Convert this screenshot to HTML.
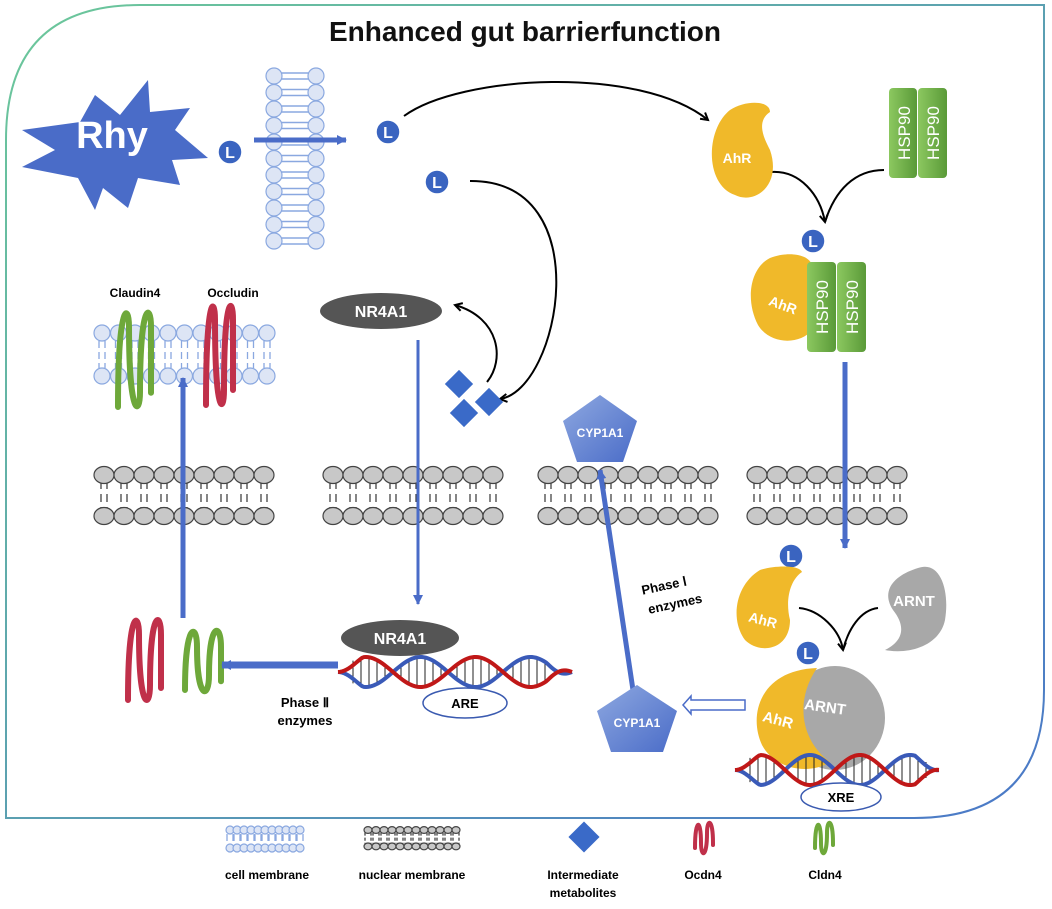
<!DOCTYPE html>
<html><head><meta charset="utf-8"><style>
body{margin:0;background:#fff;width:1052px;height:909px;overflow:hidden}
svg{display:block;font-family:"Liberation Sans",sans-serif}
.b{font-weight:bold}
</style></head><body>
<svg id="s" width="1052" height="909" viewBox="0 0 1052 909">
<defs>
<linearGradient id="bd" x1="0" y1="0" x2="1" y2="1"><stop offset="0" stop-color="#6cc89a"/><stop offset="1" stop-color="#4a78c8"/></linearGradient>
<linearGradient id="gr" x1="0" y1="0" x2="1" y2="0"><stop offset="0" stop-color="#8cc860"/><stop offset="1" stop-color="#5a9a38"/></linearGradient>
<linearGradient id="pg" x1="0" y1="0" x2="1" y2="1"><stop offset="0" stop-color="#8ea8e0"/><stop offset="1" stop-color="#4a6cc8"/></linearGradient>
<marker id="ah" markerWidth="10" markerHeight="10" refX="8" refY="5" orient="auto" markerUnits="userSpaceOnUse"><path d="M1,1 L8,5 L1,9" fill="none" stroke="#000" stroke-width="2"/></marker>
<marker id="bh" markerWidth="12" markerHeight="12" refX="9" refY="6" orient="auto" markerUnits="userSpaceOnUse"><path d="M0,1 L10,6 L0,11z" fill="#4a6cc8"/></marker>
</defs>
<path d="M140,5 H1044 V690 Q1044,818 914,818 H6 V140 Q6,5 140,5Z" fill="none" stroke="url(#bd)" stroke-width="2"/>
<text x="525" y="41" text-anchor="middle" class="b" font-size="28" fill="#111">Enhanced gut barrierfunction</text>
<g id="dyn"></g>
<polygon points="22,130 80,122 95,95 120,115 148,80 150,112 190,108 175,130 208,158 172,160 180,185 138,178 128,208 103,188 95,210 78,178 22,167 55,150" fill="#4a6cc8"/>
<text x="112" y="148" text-anchor="middle" class="b" font-size="38" fill="#fff">Rhy</text>
<line x1="254" y1="140" x2="346" y2="140" stroke="#4a6cc8" stroke-width="5" marker-end="url(#bh)"/>
<path d="M404,116 C460,75 640,65 708,120" fill="none" stroke="#000" stroke-width="2" marker-end="url(#ah)"/>
<path d="M470,181 C600,180 560,390 500,399" fill="none" stroke="#000" stroke-width="2" marker-end="url(#ah)"/>
<path d="M487,382 C505,360 500,318 455,305" fill="none" stroke="#000" stroke-width="2" marker-end="url(#ah)"/>
<path d="M771,172 C800,170 820,195 825,222" fill="none" stroke="#000" stroke-width="2" marker-end="url(#ah)"/>
<path d="M884,170 C855,170 835,190 825,222" fill="none" stroke="#000" stroke-width="2"/>
<path d="M799,608 C820,610 840,630 843,650" fill="none" stroke="#000" stroke-width="2" marker-end="url(#ah)"/>
<path d="M878,608 C860,610 848,630 843,650" fill="none" stroke="#000" stroke-width="2"/>
<path d="M730,110 C745,100 770,100 770,112 C755,122 765,140 770,150 C782,185 755,205 735,195 C705,185 705,130 730,110Z" fill="#f0b92a"/>
<text x="737" y="163" text-anchor="middle" class="b" font-size="14" fill="#fff">AhR</text>
<g fill="url(#gr)"><rect x="889" y="88" width="28" height="90" rx="4"/><rect x="918" y="88" width="29" height="90" rx="4"/></g>
<text transform="translate(910,133) rotate(-90)" text-anchor="middle" font-size="17" fill="#fff">HSP90</text>
<text transform="translate(939,133) rotate(-90)" text-anchor="middle" font-size="17" fill="#fff">HSP90</text>
<path d="M770,258 C790,250 815,255 812,270 V330 C800,345 770,345 758,325 C745,300 750,268 770,258Z" fill="#f0b92a"/>
<text x="783" y="310" text-anchor="middle" class="b" font-size="14" fill="#fff" transform="rotate(20,783,305)">AhR</text>
<g fill="url(#gr)"><rect x="807" y="262" width="29" height="90" rx="4"/><rect x="837" y="262" width="29" height="90" rx="4"/></g>
<text transform="translate(828,307) rotate(-90)" text-anchor="middle" font-size="17" fill="#fff">HSP90</text>
<text transform="translate(858,307) rotate(-90)" text-anchor="middle" font-size="17" fill="#fff">HSP90</text>
<line x1="845" y1="362" x2="845" y2="548" stroke="#4a6cc8" stroke-width="5" marker-end="url(#bh)"/>
<path d="M760,570 C775,565 800,565 802,572 C790,580 785,600 790,620 C790,650 760,655 745,640 C730,620 735,585 760,570Z" fill="#f0b92a"/>
<text x="763" y="625" text-anchor="middle" class="b" font-size="14" fill="#fff" transform="rotate(15,763,620)">AhR</text>
<path d="M918,568 C940,560 950,590 945,620 C940,645 910,655 885,650 C905,640 905,625 893,610 C880,590 895,575 918,568Z" fill="#a8a8a8"/>
<text x="914" y="606" text-anchor="middle" class="b" font-size="15" fill="#fff">ARNT</text>
<ellipse cx="835" cy="718" rx="50" ry="52" fill="#a8a8a8"/>
<path d="M817,668 C795,700 800,740 830,762 C810,775 775,770 762,745 C748,715 760,670 817,668Z" fill="#f0b92a"/>
<text x="778" y="725" text-anchor="middle" class="b" font-size="15" fill="#fff" transform="rotate(15,778,720)">AhR</text>
<text x="825" y="712" text-anchor="middle" class="b" font-size="15" fill="#fff" transform="rotate(8,825,708)">ARNT</text>
<g id="dna2"></g>
<ellipse cx="841" cy="797" rx="40" ry="14" fill="#fff" stroke="#3a5ab0" stroke-width="1.5"/>
<text x="841" y="802" text-anchor="middle" class="b" font-size="13">XRE</text>
<path d="M745,700 H691 V696 L683,705 L691,714 V710 H745Z" fill="#fff" stroke="#4a6cc8" stroke-width="1.5"/>
<line x1="633" y1="690" x2="600" y2="470" stroke="#4a6cc8" stroke-width="5" marker-end="url(#bh)"/>
<polygon points="600,395 637,421 623,462 577,462 563,421" fill="url(#pg)"/>
<text x="600" y="437" text-anchor="middle" font-size="12" class="b" fill="#fff">CYP1A1</text>
<polygon points="637,685 677,711 663,752 611,752 597,711" fill="url(#pg)"/>
<text x="637" y="727" text-anchor="middle" font-size="12" class="b" fill="#fff">CYP1A1</text>
<g transform="rotate(-12,665,590)"><text x="665" y="590" text-anchor="middle" class="b" font-size="13">Phase Ⅰ</text><text x="672" y="610" text-anchor="middle" class="b" font-size="13">enzymes</text></g>
<g fill="#3a6ac8"><rect x="-10" y="-10" width="20" height="20" transform="translate(459,384) rotate(45)"/><rect x="-10" y="-10" width="20" height="20" transform="translate(489,402) rotate(45)"/><rect x="-10" y="-10" width="20" height="20" transform="translate(464,413) rotate(45)"/></g>
<ellipse cx="381" cy="311" rx="61" ry="18" fill="#555"/>
<text x="381" y="317" text-anchor="middle" class="b" font-size="16" fill="#fff">NR4A1</text>
<line x1="418" y1="340" x2="418" y2="604" stroke="#4a6cc8" stroke-width="3" marker-end="url(#bh)"/>
<g id="dna1"></g>
<ellipse cx="400" cy="638" rx="59" ry="18" fill="#555"/>
<text x="400" y="644" text-anchor="middle" class="b" font-size="16" fill="#fff">NR4A1</text>
<ellipse cx="465" cy="703" rx="42" ry="15" fill="#fff" stroke="#3a5ab0" stroke-width="1.5"/>
<text x="465" y="708" text-anchor="middle" class="b" font-size="13">ARE</text>
<line x1="338" y1="665" x2="222" y2="665" stroke="#4a6cc8" stroke-width="7" marker-end="url(#bh)"/>
<text x="305" y="707" text-anchor="middle" class="b" font-size="13">Phase Ⅱ</text>
<text x="305" y="725" text-anchor="middle" class="b" font-size="13">enzymes</text>
<line x1="183" y1="618" x2="183" y2="378" stroke="#4a6cc8" stroke-width="5" marker-end="url(#bh)"/>
<text x="135" y="297" text-anchor="middle" class="b" font-size="12">Claudin4</text>
<text x="233" y="297" text-anchor="middle" class="b" font-size="12">Occludin</text>
<text x="267" y="879" text-anchor="middle" class="b" font-size="12">cell membrane</text>
<text x="412" y="879" text-anchor="middle" class="b" font-size="12">nuclear membrane</text>
<rect x="-11" y="-11" width="22" height="22" fill="#3a6ac8" transform="translate(584,837) rotate(45)"/>
<text x="583" y="879" text-anchor="middle" class="b" font-size="12">Intermediate</text>
<text x="583" y="897" text-anchor="middle" class="b" font-size="12">metabolites</text>
<text x="703" y="879" text-anchor="middle" class="b" font-size="12">Ocdn4</text>
<text x="825" y="879" text-anchor="middle" class="b" font-size="12">Cldn4</text>
</svg>
<script>
var NS="http://www.w3.org/2000/svg",g=document.getElementById("dyn");
function el(t,a,p){var e=document.createElementNS(NS,t);for(var k in a)e.setAttribute(k,a[k]);(p||g).appendChild(e);return e;}
for(var y=76;y<=244;y+=16.5){
 el("line",{x1:280,y1:y-3,x2:310,y2:y-3,stroke:"#8aa8e0","stroke-width":1.5});
 el("line",{x1:280,y1:y+3,x2:310,y2:y+3,stroke:"#8aa8e0","stroke-width":1.5});
 el("circle",{cx:274,cy:y,r:8,fill:"#dde5f5",stroke:"#8aa8e0","stroke-width":1.2});
 el("circle",{cx:316,cy:y,r:8,fill:"#dde5f5",stroke:"#8aa8e0","stroke-width":1.2});
}
function hcm(x0,x1,y0,y1,r,st){for(var x=x0;x<=x1;x+=st){
 el("line",{x1:x-3,y1:y0+r,x2:x-3,y2:y1-r,stroke:"#8aa8e0","stroke-width":1.3,"stroke-dasharray":"7 4"});
 el("line",{x1:x+3,y1:y0+r,x2:x+3,y2:y1-r,stroke:"#8aa8e0","stroke-width":1.3,"stroke-dasharray":"7 4"});
 el("circle",{cx:x,cy:y0,r:r,fill:"#dde5f5",stroke:"#8aa8e0","stroke-width":1.2});
 el("circle",{cx:x,cy:y1,r:r,fill:"#dde5f5",stroke:"#8aa8e0","stroke-width":1.2});}}
hcm(102,270,333,376,8,16.5);
hcm(230,305,830,848,4,7);
function nm(x0,n,sc,cy){for(var i=0;i<n;i++){var x=x0+i*20*sc;
 el("line",{x1:x-3,y1:cy-14*sc,x2:x-3,y2:cy+14*sc,stroke:"#444","stroke-width":1.3,"stroke-dasharray":(8*sc)+" "+(5*sc)});
 el("line",{x1:x+3,y1:cy-14*sc,x2:x+3,y2:cy+14*sc,stroke:"#444","stroke-width":1.3,"stroke-dasharray":(8*sc)+" "+(5*sc)});
 el("ellipse",{cx:x,cy:cy-20*sc,rx:10*sc,ry:8.5*sc,fill:"#c8c8c8",stroke:"#444","stroke-width":1.2});
 el("ellipse",{cx:x,cy:cy+21*sc,rx:10*sc,ry:8.5*sc,fill:"#c8c8c8",stroke:"#444","stroke-width":1.2});}}
nm(104,9,1,495);nm(333,9,1,495);nm(548,9,1,495);nm(757,8,1,495);
nm(368,12,0.4,838);
function dna(p,x0,x1,cy,amp,per){var pr="",pb="";for(var x=x0;x<=x1;x+=2){var t=(x-x0)/per*2*Math.PI;var env=Math.min(1,(x-x0)/25,(x1-x)/25);
 pr+=(x==x0?"M":"L")+x+","+(cy-amp*Math.sin(t)*env);pb+=(x==x0?"M":"L")+x+","+(cy+amp*Math.sin(t)*env);}
 for(var x=x0+15;x<x1-10;x+=8){var t=(x-x0)/per*2*Math.PI;var a=amp*Math.abs(Math.sin(t));if(a>5)el("line",{x1:x,y1:cy-a,x2:x,y2:cy+a,stroke:"#222","stroke-width":1},p);}
 el("path",{d:pb,fill:"none",stroke:"#3a5ab8","stroke-width":4},p);el("path",{d:pr,fill:"none",stroke:"#c01818","stroke-width":4},p);}
dna(document.getElementById("dna1"),338,572,672,15,110);dna(document.getElementById("dna2"),735,940,770,15,100);
[[230,152],[388,132],[437,182],[813,241],[791,556],[808,653]].forEach(function(p){
 el("circle",{cx:p[0],cy:p[1],r:12,fill:"#3a64c0",stroke:"#fff","stroke-width":1.5});
 var t=el("text",{x:p[0],y:p[1]+6,"text-anchor":"middle","font-size":16,"font-weight":"bold",fill:"#fff"});t.textContent="L";});
function loop(x0,y0,segs,w,h,col,sw){var d="M"+x0+","+(y0+h);var x=x0;for(var i=0;i<segs;i++){d+=" C"+x+","+(y0-10)+" "+(x+w)+","+(y0-10)+" "+(x+w)+","+(y0+15);x+=w;if(i<segs-1){d+=" C"+x+","+(y0+h+10)+" "+(x+w)+","+(y0+h+10)+" "+(x+w)+","+(y0+h-15);x+=w;}}
 d+=" L"+x+","+(y0+h*0.85);
 el("path",{d:d,fill:"none",stroke:col,"stroke-width":sw,"stroke-linecap":"round"});}
loop(118,312,2,11,95,"#6ea83a",6);
loop(206,305,2,9,100,"#c0304a",6);
loop(128,620,2,11,80,"#c0304a",6);
loop(185,632,2,12,58,"#6ea83a",6);
loop(695,828,2,6,20,"#c0304a",4);
loop(815,828,2,6,20,"#6ea83a",4);
</script>
</body></html>
